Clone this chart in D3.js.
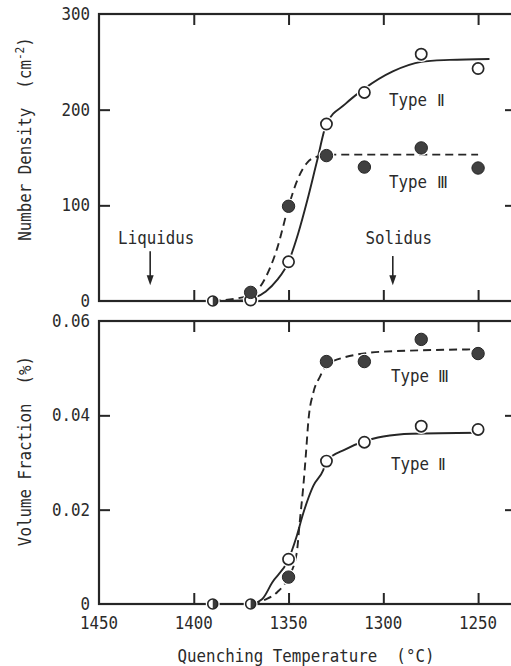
<!DOCTYPE html>
<html>
<head>
<meta charset="utf-8">
<script src="https://cdn.jsdelivr.net/npm/d3@7"></script>
<style>
  html, body { margin: 0; padding: 0; background: #fff; }
  svg { display: block; }
  text { font-family: "DejaVu Sans Mono", "Liberation Mono", monospace; fill: #2a2a2a; white-space: pre; }
</style>
</head>
<body>
<div id="chart"></div>
<script>
// ---------------- DATA ----------------
const temps = [1390, 1370, 1350, 1330, 1310, 1280, 1250];
const densityTypeII  = [0, 1, 41, 185, 218, 258, 243];
const densityTypeIII = [0, 9, 99, 152, 140, 160, 139];
const volumeTypeII   = [0, 0, 0.0095, 0.0303, 0.0343, 0.0377, 0.0370];
const volumeTypeIII  = [0, 0, 0.0057, 0.0514, 0.0514, 0.0561, 0.0531];

// fitted (hand-drawn) curves
const densityCurveIITemps  = [1390, 1375, 1370, 1362, 1356, 1350, 1345, 1340, 1335, 1330, 1320, 1310, 1295, 1280, 1265, 1244];
const densityCurveII       = [0, 0.5, 2, 10, 22, 41, 70, 106, 146, 185, 206, 222, 240, 250, 252, 253];
const densityCurveIIITemps = [1390, 1370, 1362, 1356, 1350, 1345, 1340, 1335, 1330, 1290, 1250];
const densityCurveIII      = [0, 6, 25, 55, 99, 128, 145, 151, 153, 153, 153];
const volumeCurveIITemps   = [1390, 1370, 1364, 1358.7, 1350, 1346, 1342.2, 1337, 1331.7, 1330, 1320, 1310, 1300, 1285, 1250];
const volumeCurveII        = [0, 0, 0.001, 0.0045, 0.0095, 0.014, 0.0193, 0.025, 0.0284, 0.0303, 0.0328, 0.0345, 0.0355, 0.0361, 0.0363];
const volumeCurveIIITemps  = [1390, 1370, 1362, 1356, 1350, 1345.7, 1344, 1342.2, 1340.8, 1339.5, 1337, 1333.4, 1330.7, 1326, 1300, 1250];
const volumeCurveIII       = [0, 0, 0.001, 0.0025, 0.0057, 0.0108, 0.0178, 0.025, 0.032, 0.039, 0.0447, 0.0482, 0.0503, 0.0516, 0.0535, 0.054];

const xTickValues = [1450, 1400, 1350, 1300, 1250];
const xTickLabels = ["1450", "1400", "1350", "1300", "1250"];
const densityTicks = [0, 100, 200, 300];
const densityTickLabels = ["0", "100", "200", "300"];
const volumeTicks = [0, 0.02, 0.04, 0.06];
const volumeTickLabels = ["0", "0.02", "0.04", "0.06"];

const liquidusTemp = 1423;
const solidusTemp = 1295;

// ---------------- LAYOUT ----------------
const W = 511, H = 666;
const svg = d3.select("#chart").append("svg").attr("width", W).attr("height", H);
svg.append("rect").attr("width", W).attr("height", H).attr("fill", "#fff");

const ink = "#262626";
const x = d3.scaleLinear().domain([1450, 1230]).range([99, 516]);
const yTop = d3.scaleLinear().domain([0, 300]).range([301, 14]);
const yBot = d3.scaleLinear().domain([0, 0.06]).range([604, 321]);

const FS = 17, SX = 0.93;
function label(g, px, py, s, anchor, rot, dy) {
  const t = g.append("text")
    .attr("transform", `translate(${px},${py})${rot ? ` rotate(${rot})` : ""} scale(${SX},1)`)
    .attr("text-anchor", anchor || "start")
    .attr("font-size", FS)
    .attr("xml:space", "preserve");
  if (dy) t.attr("dy", dy);
  return t.text(s);
}

function panel(y, ticksY, ticksYLabels, yTickInner) {
  const g = svg.append("g");
  const [x0, x1] = x.range();
  const [yb, yt] = y.range();
  g.append("rect").attr("x", x0).attr("y", yt).attr("width", x1 - x0).attr("height", yb - yt)
    .attr("fill", "none").attr("stroke", ink).attr("stroke-width", 2.2);
  const tickVals = xTickValues.filter(v => v !== 1450);
  const axes = [
    d3.axisBottom(x).tickValues(tickVals).tickSize(-11).tickFormat(""),
    d3.axisTop(x).tickValues(tickVals).tickSize(-11).tickFormat(""),
    d3.axisLeft(y).tickValues(yTickInner).tickSize(-11).tickFormat(""),
    d3.axisRight(y).tickValues(yTickInner).tickSize(-11).tickFormat("")
  ];
  const trans = [`translate(0,${yb})`, `translate(0,${yt})`, `translate(${x0},0)`, `translate(${x1},0)`];
  axes.forEach((a, i) => {
    const ag = g.append("g").attr("transform", trans[i]).call(a);
    ag.select(".domain").remove();
    ag.selectAll("line").attr("stroke", ink).attr("stroke-width", 2);
  });
  ticksY.forEach((v, i) => label(g, 90, y(v), ticksYLabels[i], "end", 0, "0.36em"));
  return g;
}

const gTop = panel(yTop, densityTicks, densityTickLabels, [100, 200]);
const gBot = panel(yBot, volumeTicks, volumeTickLabels, [0.02, 0.04]);

// x tick labels
xTickValues.forEach((v, i) => label(svg, x(v), 629, xTickLabels[i], "middle"));
label(svg, 306, 662, "Quenching Temperature\u00A0\u00A0(°C)", "middle");

// y titles
const tTop = svg.append("text")
  .attr("transform", `translate(31,139) rotate(-90) scale(${SX},1)`)
  .attr("text-anchor", "middle").attr("font-size", FS);
tTop.append("tspan").text("Number Density\u00A0\u00A0(cm");
tTop.append("tspan").attr("dy", -7).attr("font-size", 12).text("-2");
tTop.append("tspan").attr("dy", 7).text(")");
label(svg, 31, 451, "Volume Fraction\u00A0\u00A0(%)", "middle", -90);

// ---------------- CURVES ----------------
function curve(g, y, ts, vs, dashed) {
  const line = d3.line().x(d => x(d[0])).y(d => y(d[1])).curve(d3.curveMonotoneX);
  g.append("path").datum(ts.map((t, i) => [t, vs[i]]))
    .attr("d", line).attr("fill", "none").attr("stroke", ink)
    .attr("stroke-width", 1.9)
    .attr("stroke-dasharray", dashed ? "8,5" : null);
}
curve(gTop, yTop, densityCurveIITemps, densityCurveII, false);
curve(gTop, yTop, densityCurveIIITemps, densityCurveIII, true);
curve(gBot, yBot, volumeCurveIITemps, volumeCurveII, false);
curve(gBot, yBot, volumeCurveIIITemps, volumeCurveIII, true);

// ---------------- MARKERS ----------------
function markers(g, y, vII, vIII) {
  const pts = [];
  temps.forEach((t, i) => {
    if (vII[i] === vIII[i]) pts.push({ t, v: vII[i], kind: "half" });
    else { pts.push({ t, v: vII[i], kind: "open" }); pts.push({ t, v: vIII[i], kind: "filled" }); }
  });
  g.selectAll(null).data(pts).enter().append("circle")
    .attr("cx", d => x(d.t)).attr("cy", d => y(d.v)).attr("r", d => d.kind === "half" ? 7 : 7.8)
    .attr("fill", "#fff");
  pts.forEach(d => {
    const cx = x(d.t), cy = y(d.v);
    if (d.kind === "half") {
      const r = 5;
      g.append("circle").attr("cx", cx).attr("cy", cy).attr("r", r).attr("fill", "#fff");
      g.append("path").attr("d", `M${cx},${cy - r} A${r},${r} 0 0 1 ${cx},${cy + r} Z`).attr("fill", "#3a3a3a");
      g.append("circle").attr("cx", cx).attr("cy", cy).attr("r", r)
        .attr("fill", "none").attr("stroke", ink).attr("stroke-width", 1.6);
    } else if (d.kind === "open") {
      g.append("circle").attr("cx", cx).attr("cy", cy).attr("r", 5.6)
        .attr("fill", "#fff").attr("stroke", ink).attr("stroke-width", 1.7);
    } else {
      g.append("circle").attr("cx", cx).attr("cy", cy).attr("r", 6.2)
        .attr("fill", "#404040").attr("stroke", ink).attr("stroke-width", 1);
    }
  });
}
markers(gTop, yTop, densityTypeII, densityTypeIII);
markers(gBot, yBot, volumeTypeII, volumeTypeIII);

// ---------------- ANNOTATIONS ----------------
label(gTop, x(1297), yTop(204), "Type\u00A0\u2161");
label(gTop, x(1297), yTop(118), "Type\u00A0\u2162");
label(gBot, x(1296), yBot(0.0471), "Type\u00A0\u2162");
label(gBot, x(1296), yBot(0.0284), "Type\u00A0\u2161");

function arrow(g, t, v0, v1, text) {
  const cx = x(t), ya = yTop(v0), yb = yTop(v1);
  g.append("line").attr("x1", cx).attr("x2", cx).attr("y1", ya).attr("y2", yb - 6)
    .attr("stroke", ink).attr("stroke-width", 1.6);
  g.append("path").attr("d", `M${cx - 3.5},${yb - 10} L${cx + 3.5},${yb - 10} L${cx},${yb} Z`).attr("fill", ink);
  label(g, cx + 6, yTop(60), text, "middle");
}
arrow(gTop, liquidusTemp, 52, 16.5, "Liquidus");
arrow(gTop, solidusTemp, 47, 16.5, "Solidus");
</script>
</body>
</html>
